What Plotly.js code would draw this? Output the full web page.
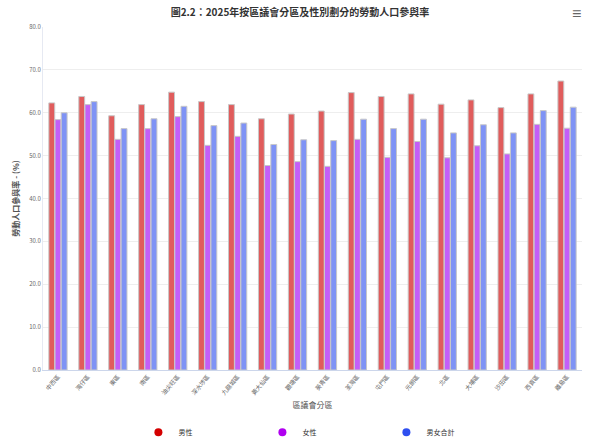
<!DOCTYPE html>
<html>
<head>
<meta charset="utf-8">
<script src="https://cdn.plot.ly/plotly-3.0.1.min.js"></script>
<style>
  html, body { margin: 0; padding: 0; background: #fff; }
  #chart { width: 600px; height: 446px; }
</style>
</head>
<body>
<div id="chart"></div>
<script>
// 區議會分區
const districts = ['中西區', '灣仔區', '東區', '南區', '油尖旺區', '深水埗區', '九龍城區', '黃大仙區', '觀塘區',
  '葵青區', '荃灣區', '屯門區', '元朗區', '北區', '大埔區', '沙田區', '西貢區', '離島區'];

// 勞動人口參與率 (%)
const male   = [62.3, 63.8, 59.3, 61.9, 64.8, 62.6, 61.9, 58.6, 59.7, 60.4, 64.7, 63.8, 64.4, 62.0, 63.0, 61.2, 64.4, 67.4];
const female = [58.4, 61.9, 53.8, 56.3, 59.1, 52.4, 54.5, 47.7, 48.6, 47.5, 53.8, 49.6, 53.3, 49.5, 52.3, 50.4, 57.3, 56.4];
const total  = [60.0, 62.6, 56.3, 58.6, 61.5, 57.0, 57.6, 52.6, 53.7, 53.5, 58.5, 56.3, 58.5, 55.3, 57.2, 55.3, 60.5, 61.3];

const seriesNames = ['男性', '女性', '男女合計'];
const barColors = ['#e05c5c', '#c45ef7', '#7f93f5'];
const legendColors = ['#d40000', '#b000f0', '#2e4ff0'];

const font = '"Noto Sans CJK TC", "Noto Sans", sans-serif';

function barTrace(name, values, i) {
  return {
    x: districts,
    y: values,
    name: name,
    type: 'bar',
    legendgroup: name,
    showlegend: false,
    marker: { color: barColors[i], line: { color: '#c8c8c8', width: 1 } },
    hovertemplate: '%{x}<br>' + name + ': %{y:.1f}<extra></extra>'
  };
}

// legend entries with round markers
function legendTrace(name, i) {
  return {
    x: [null],
    y: [null],
    name: name,
    type: 'scatter',
    mode: 'markers',
    legendgroup: name,
    marker: { color: legendColors[i], size: 8, symbol: 'circle' },
    hoverinfo: 'skip'
  };
}

const data = [
  barTrace(seriesNames[0], male, 0),
  barTrace(seriesNames[1], female, 1),
  barTrace(seriesNames[2], total, 2),
  legendTrace(seriesNames[0], 0),
  legendTrace(seriesNames[1], 1),
  legendTrace(seriesNames[2], 2)
];

const layout = {
  width: 600,
  height: 446,
  title: {
    text: '<b>圖2.2：2025年按區議會分區及性別劃分的勞動人口參與率</b>',
    font: { family: font, size: 10, color: '#333333' },
    x: 0.5,
    xanchor: 'center',
    y: 0.971,
    yanchor: 'middle'
  },
  barmode: 'group',
  bargap: 0.38,
  bargroupgap: 0.05,
  xaxis: {
    title: { text: '區議會分區', font: { family: font, size: 8, color: '#555555' }, standoff: 6 },
    tickfont: { family: font, size: 6, color: '#666666' },
    tickangle: -50,
    showline: true,
    linecolor: '#ccd6eb',
    linewidth: 1,
    ticks: '',
    automargin: false,
    fixedrange: true
  },
  yaxis: {
    title: { text: '<b>勞動人口參與率 - (%)</b>', font: { family: font, size: 8, color: '#555555' }, standoff: 8 },
    range: [0, 80],
    dtick: 10,
    tickformat: '.1f',
    tickfont: { family: font, size: 6, color: '#666666' },
    gridcolor: '#eeeeee',
    showline: true,
    linecolor: '#e6e9f2',
    zeroline: false,
    automargin: false,
    fixedrange: true
  },
  legend: {
    orientation: 'h',
    xref: 'paper',
    yref: 'container',
    x: 0.177,
    xanchor: 'left',
    y: 0.031,
    yanchor: 'middle',
    itemwidth: 30,
    entrywidth: 79,
    entrywidthmode: 'pixels',
    font: { family: font, size: 7, color: '#333333' },
    itemclick: false,
    itemdoubleclick: false
  },
  annotations: [{
    text: '≡',
    xref: 'paper', yref: 'paper',
    x: 0.989, y: 1.04,
    xanchor: 'center', yanchor: 'middle',
    showarrow: false,
    font: { size: 16, color: '#666666' }
  }],
  margin: { t: 27, b: 76, l: 43, r: 18 },
  paper_bgcolor: '#ffffff',
  plot_bgcolor: '#ffffff',
  hovermode: 'closest'
};

const config = {
  displayModeBar: false,
  responsive: false
};

Plotly.newPlot('chart', data, layout, config);
</script>
</body>
</html>
